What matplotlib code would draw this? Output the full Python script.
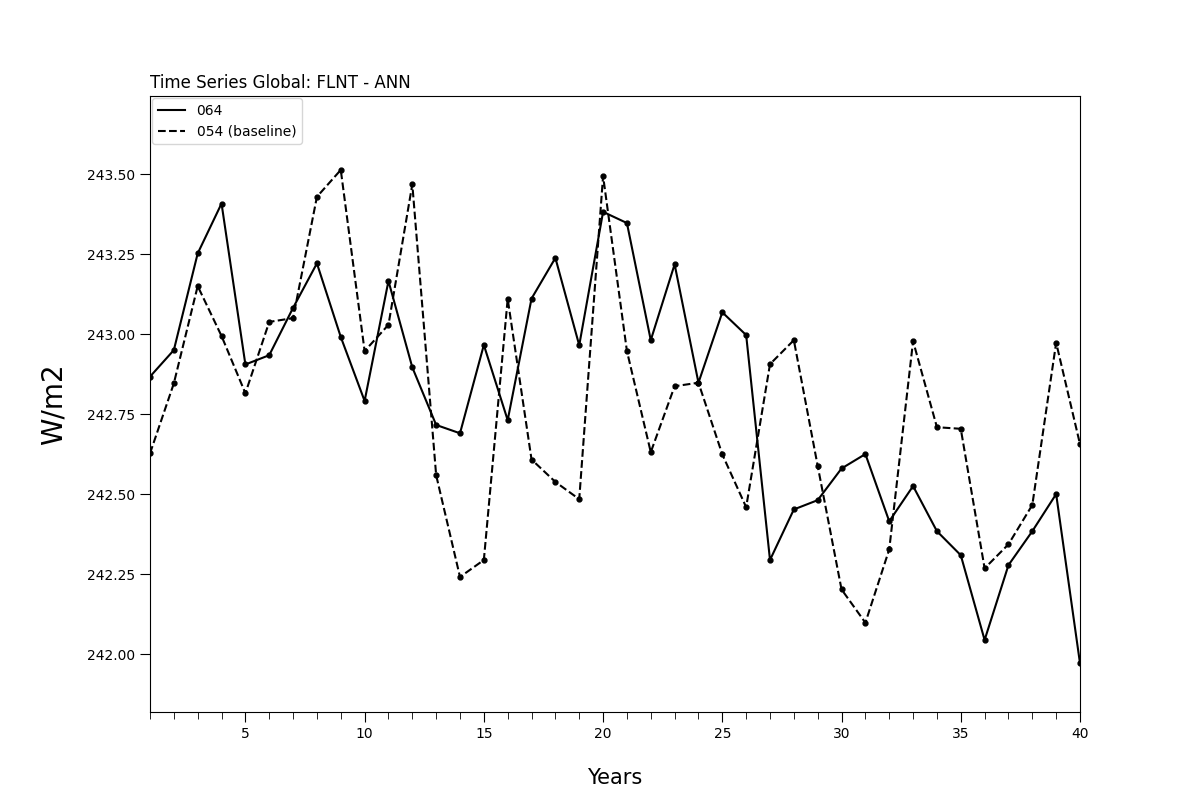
import matplotlib
matplotlib.use("Agg")
import matplotlib.pyplot as plt
from matplotlib.ticker import MultipleLocator, FormatStrFormatter

years = list(range(1, 41))

# 064
flnt_064 = [242.867, 242.950, 243.252, 243.408, 242.905, 242.934, 243.082, 243.221, 242.991, 242.791,
            243.166, 242.896, 242.716, 242.690, 242.966, 242.731, 243.111, 243.238, 242.965, 243.382,
            243.347, 242.981, 243.218, 242.848, 243.068, 242.997, 242.294, 242.452, 242.481, 242.580,
            242.625, 242.415, 242.525, 242.384, 242.309, 242.044, 242.278, 242.384, 242.500, 241.971]

# 054 (baseline)
flnt_054 = [242.627, 242.846, 243.150, 242.994, 242.815, 243.038, 243.050, 243.429, 243.513, 242.947,
            243.029, 243.468, 242.559, 242.241, 242.294, 243.110, 242.608, 242.538, 242.484, 243.494,
            242.947, 242.631, 242.837, 242.848, 242.624, 242.459, 242.906, 242.981, 242.588, 242.202,
            242.098, 242.327, 242.978, 242.709, 242.704, 242.268, 242.343, 242.466, 242.973, 242.656]

fig, ax = plt.subplots(figsize=(12, 8), dpi=100)

ax.plot(years, flnt_064, color="black", linestyle="-", linewidth=1.5, label="064")
ax.plot(years, flnt_054, color="black", linestyle="--", linewidth=1.5, label="054 (baseline)")
# markers drawn separately so the legend shows plain lines
ax.plot(years, flnt_064, color="black", linestyle="none", marker="o", markersize=3.5)
ax.plot(years, flnt_054, color="black", linestyle="none", marker="o", markersize=3.5)

ax.set_xlim(1, 40)
ax.set_ylim(241.819, 243.744)
ax.xaxis.set_major_locator(MultipleLocator(5))
ax.xaxis.set_minor_locator(MultipleLocator(1))
ax.yaxis.set_major_locator(MultipleLocator(0.25))
ax.yaxis.set_major_formatter(FormatStrFormatter("%.2f"))
ax.tick_params(which="major", length=7)
ax.tick_params(which="minor", length=5)

ax.set_title("Time Series Global: FLNT - ANN", loc="left", fontsize=12)
ax.set_xlabel("Years", fontsize=15, labelpad=19.5)
ax.set_ylabel("W/m2", fontsize=20, labelpad=14)
ax.legend(loc="upper left", borderaxespad=0.15)

plt.savefig("out.png")
